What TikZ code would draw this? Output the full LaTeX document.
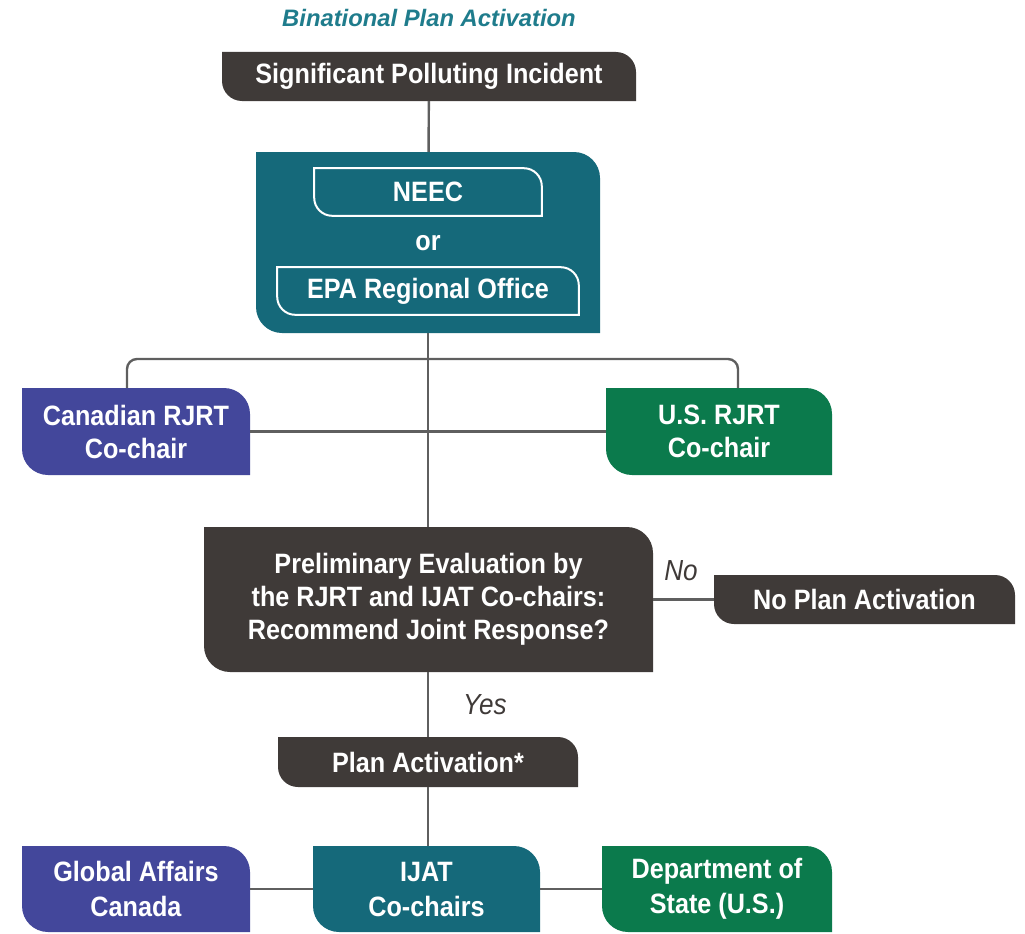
\documentclass[tikz,border=0pt]{standalone}
\usepackage{fontspec}
\setmainfont{Liberation Sans}[FakeStretch=0.9]
\newfontfamily\titlefont{Liberation Sans}
\definecolor{darkbox}{RGB}{63,58,56}
\definecolor{tealbox}{RGB}{21,105,122}
\definecolor{bluebox}{RGB}{67,71,155}
\definecolor{greenbox}{RGB}{11,122,76}
\definecolor{titleteal}{RGB}{31,124,140}
\definecolor{connline}{RGB}{95,95,95}
\newcommand\leafpath[2]{%
 ([shift={(#1,-#1)}]path picture bounding box.north west)
 -- ([shift={(-#2-#1,-#1)}]path picture bounding box.north east)
 arc[start angle=90,end angle=0,radius=#2]
 -- ([shift={(-#1,#1)}]path picture bounding box.south east)
 -- ([shift={(#2+#1,#1)}]path picture bounding box.south west)
 arc[start angle=270,end angle=180,radius=#2] -- cycle}
\tikzset{
 box/.style={inner sep=0pt, outer sep=0pt, text=white, align=center,
   font=\bfseries\fontsize{28}{33}\selectfont},
 fillleaf/.style 2 args={path picture={\fill[#1] \leafpath{0pt}{#2};}},
 lineleaf/.style={path picture={\draw[white,line width=2pt] \leafpath{1.2pt}{18pt};}},
 conn/.style={draw=connline, line width=2.4pt},
 answer/.style={text=darkbox, font=\itshape\fontsize{29}{30}\selectfont},
}
\begin{document}
\begin{tikzpicture}[x=1pt,y=1pt]
\useasboundingbox (0,0) rectangle (1025,-934);
% title
\node[text=titleteal, font=\titlefont\bfseries\itshape\fontsize{23.8}{26}\selectfont] (title) at (429,-18) {Binational Plan Activation};
% boxes
\node[box, fillleaf={darkbox}{20pt}, minimum width=414pt, minimum height=49pt] (sig) at (429,-76.5) {Significant Polluting Incident};
\node[box, fillleaf={tealbox}{26pt}, minimum width=344pt, minimum height=181pt] (big) at (428,-242.5) {};
\node[box, lineleaf, minimum width=230pt, minimum height=50pt] (neec) at (428,-192) {NEEC};
\node[box] (or) at (428,-243) {or};
\node[box, lineleaf, minimum width=304pt, minimum height=50pt] (epa) at (428,-291) {EPA Regional Office};
\node[box, fillleaf={bluebox}{26pt}, minimum width=228pt, minimum height=87pt] (can) at (136,-431.5) {Canadian RJRT\\Co-chair};
\node[box, fillleaf={greenbox}{26pt}, minimum width=226pt, minimum height=87pt] (us) at (719,-431.5) {U.S. RJRT\\Co-chair};
\node[box, fillleaf={darkbox}{26pt}, minimum width=449pt, minimum height=145pt] (prelim) at (428.5,-599.5) {Preliminary Evaluation by\\the RJRT and IJAT Co-chairs:\\Recommend Joint Response?};
\node[box, fillleaf={darkbox}{20pt}, minimum width=301pt, minimum height=49pt] (noplan) at (864.5,-599.5) {No Plan Activation};
\node[box, fillleaf={darkbox}{20pt}, minimum width=300pt, minimum height=50pt] (plan) at (428,-762) {Plan Activation*};
\node[box, fillleaf={bluebox}{26pt}, minimum width=228pt, minimum height=86pt, font=\bfseries\fontsize{28}{35}\selectfont] (global) at (136,-889) {Global Affairs\\Canada};
\node[box, fillleaf={tealbox}{26pt}, minimum width=227pt, minimum height=86pt, font=\bfseries\fontsize{28}{35}\selectfont] (ijat) at (426.5,-889) {IJAT\\Co-chairs};
\node[box, fillleaf={greenbox}{26pt}, minimum width=230pt, minimum height=86pt, font=\bfseries\fontsize{28}{35}\selectfont] (dept) at (717,-889) {Department of\\State (U.S.)};
% labels
\node[answer] (no) at (681,-571) {No};
\node[answer] (yes) at (485,-705) {Yes};
% connectors
\coordinate (split) at (428,-359);
\draw[conn] (sig) -- (big);
\draw[conn] (big.south) -- (big.south |- prelim.north);
\draw[conn, rounded corners=10pt] ([xshift=-9pt]can.north) |- (split) -| ([xshift=19pt]us.north);
\draw[conn] (can.east) -- (us.west);
\draw[conn] (prelim.east) -- (noplan.west);
\draw[conn] (prelim.south -| plan.north) -- (plan.north);
\draw[conn] (plan.south) -- (plan.south |- ijat.north);
\draw[conn] (global.east) -- (ijat.west);
\draw[conn] (ijat.east) -- (dept.west);
\end{tikzpicture}
\end{document}
